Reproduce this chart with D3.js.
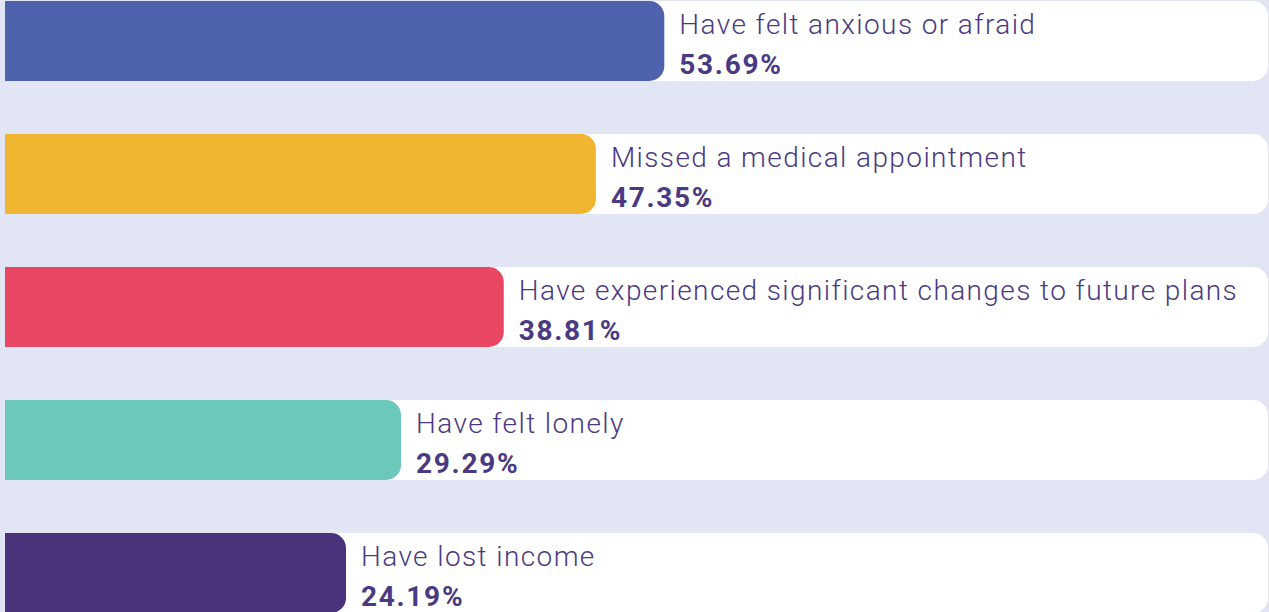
<!DOCTYPE html>
<html>
<head>
<meta charset="utf-8">
<script src="https://cdn.jsdelivr.net/npm/d3@7"></script>
<style>
  html, body { margin: 0; padding: 0; background: #e2e5f4; }
  svg { display: block; }
  .name { font-family: Roboto, sans-serif; font-weight: 300; fill: #4a3a82; letter-spacing: 1.4px; }
  .value { font-family: Roboto, sans-serif; font-weight: 700; fill: #4a3a82; letter-spacing: 1.7px; }
</style>
</head>
<body>
<div id="wrapper"></div>
<script>
// DATA
const categories = [
    "Have felt anxious or afraid",
    "Missed a medical appointment",
    "Have experienced significant changes to future plans",
    "Have felt lonely",
    "Have lost income"
]
const percentages = [53.69, 47.35, 38.81, 29.29, 24.19]
const barColors = ["#4f62ad", "#f0b531", "#e94663", "#6cc8b8", "#4a337a"]

const width = 1269
const height = 612

const svg = d3.select('#wrapper')
    .append('svg')
    .attr('width', width)
    .attr('height', height)

svg.append('rect')
    .attr('width', width)
    .attr('height', height)
    .attr('fill', '#e2e5f4')

// rows
const yScale = d3.scaleBand()
    .domain(categories)
    .range([1, 613])
    .paddingInner(53 / 133)
    .paddingOuter(0)

// bar length
const xScale = d3.scaleLinear()
    .domain([0, 100])
    .range([85, 1164])

const left = 5
const trackEnd = 1268
const r = 15

// rect with only right corners rounded
const rightRounded = (x0, x1, y, h) => {
    const p = d3.path()
    p.moveTo(x0, y)
    p.lineTo(x1 - r, y)
    p.arcTo(x1, y, x1, y + r, r)
    p.lineTo(x1, y + h - r)
    p.arcTo(x1, y + h, x1 - r, y + h, r)
    p.lineTo(x0, y + h)
    p.closePath()
    return p.toString()
}

const rows = svg.selectAll('.row')
    .data(categories)
    .enter().append('g')
    .attr('class', 'row')
    .attr('transform', d => `translate(0, ${yScale(d)})`)

rows.append('path')
    .attr('d', () => rightRounded(left, trackEnd, 0, yScale.bandwidth()))
    .attr('fill', '#ffffff')

rows.append('path')
    .attr('d', (d, i) => rightRounded(left, xScale(percentages[i]), 0, yScale.bandwidth()))
    .attr('fill', (d, i) => barColors[i])

rows.append('text')
    .attr('class', 'name')
    .attr('x', (d, i) => xScale(percentages[i]) + 15)
    .attr('y', 33)
    .style('font-size', '28px')
    .text(d => d)

rows.append('text')
    .attr('class', 'value')
    .attr('x', (d, i) => xScale(percentages[i]) + 15)
    .attr('y', 73)
    .style('font-size', '28px')
    .text((d, i) => d3.format('.2f')(percentages[i]) + '%')
</script>
</body>
</html>
